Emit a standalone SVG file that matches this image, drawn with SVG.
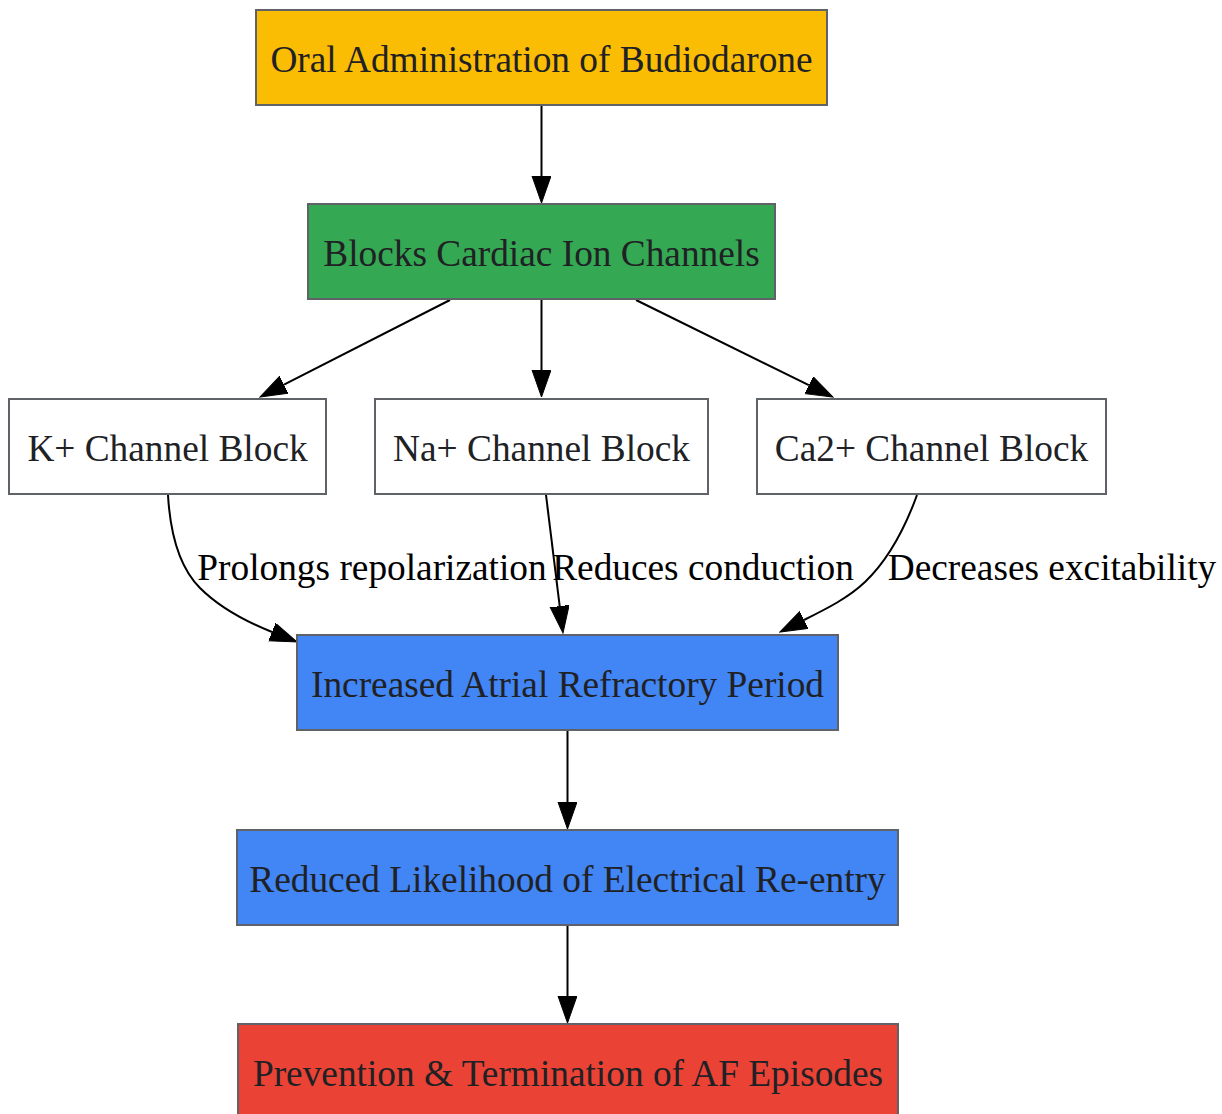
<svg xmlns="http://www.w3.org/2000/svg" width="1222" height="1114" viewBox="0 0 1222 1114">
<style>
.node rect{stroke:#5f6368;stroke-width:2}
.node text{font-family:"Liberation Serif","Times New Roman",serif;font-size:37.33px;fill:#202124;text-anchor:middle}
.edge path{fill:none;stroke:#000;stroke-width:2}
.lbl{font-family:"Liberation Serif","Times New Roman",serif;font-size:37.33px;fill:#000;text-anchor:middle}
</style>
<defs>
<marker id="ah" markerUnits="userSpaceOnUse" markerWidth="28" markerHeight="20" refX="0" refY="9.5" orient="auto">
<path d="M0,0 L27,9.5 L0,19 Z" fill="#000" stroke="#000" stroke-width="1"/>
</marker>
</defs>
<rect width="1222" height="1114" fill="#fff"/>
<g id="connectors" class="edge">
<path d="M541.5,105 L541.5,176" marker-end="url(#ah)"/>
<path d="M450,300 L284,384.7" marker-end="url(#ah)"/>
<path d="M541.5,300 L541.5,370" marker-end="url(#ah)"/>
<path d="M636,300 L808.8,385.1" marker-end="url(#ah)"/>
<path d="M168,495 C170,530 177,565 200,588 C218,606 242,620 272,632" marker-end="url(#ah)"/>
<path d="M546,495 L559.7,606.2" marker-end="url(#ah)"/>
<path d="M917,495 C905,528 888,560 865,582 C848,598 828,608 804,620" marker-end="url(#ah)"/>
<path d="M567.5,731 L567.5,802" marker-end="url(#ah)"/>
<path d="M567.5,926 L567.5,996" marker-end="url(#ah)"/>
<text class="lbl" x="372" y="580">Prolongs repolarization</text>
<text class="lbl" x="703" y="580">Reduces conduction</text>
<text class="lbl" x="1052" y="580">Decreases excitability</text>
</g>
<g id="oral" class="node"><rect x="256" y="10" width="571" height="95" fill="#fbbc04"/><text x="541.5" y="72">Oral Administration of Budiodarone</text></g>
<g id="blocks" class="node"><rect x="308" y="204" width="467" height="95" fill="#34a853"/><text x="541.5" y="266">Blocks Cardiac Ion Channels</text></g>
<g id="k" class="node"><rect x="9" y="399" width="317" height="95" fill="#fff"/><text x="167.5" y="461">K+ Channel Block</text></g>
<g id="na" class="node"><rect x="375" y="399" width="333" height="95" fill="#fff"/><text x="541.5" y="461">Na+ Channel Block</text></g>
<g id="ca" class="node"><rect x="757" y="399" width="349" height="95" fill="#fff"/><text x="931.5" y="461">Ca2+ Channel Block</text></g>
<g id="refractory" class="node"><rect x="297" y="635" width="541" height="95" fill="#4285f4"/><text x="567.5" y="697">Increased Atrial Refractory Period</text></g>
<g id="reentry" class="node"><rect x="237" y="830" width="661" height="95" fill="#4285f4"/><text x="567.5" y="892">Reduced Likelihood of Electrical Re-entry</text></g>
<g id="prevention" class="node"><rect x="238" y="1024" width="660" height="95" fill="#ea4335"/><text x="568" y="1086">Prevention &amp; Termination of AF Episodes</text></g>
</svg>
